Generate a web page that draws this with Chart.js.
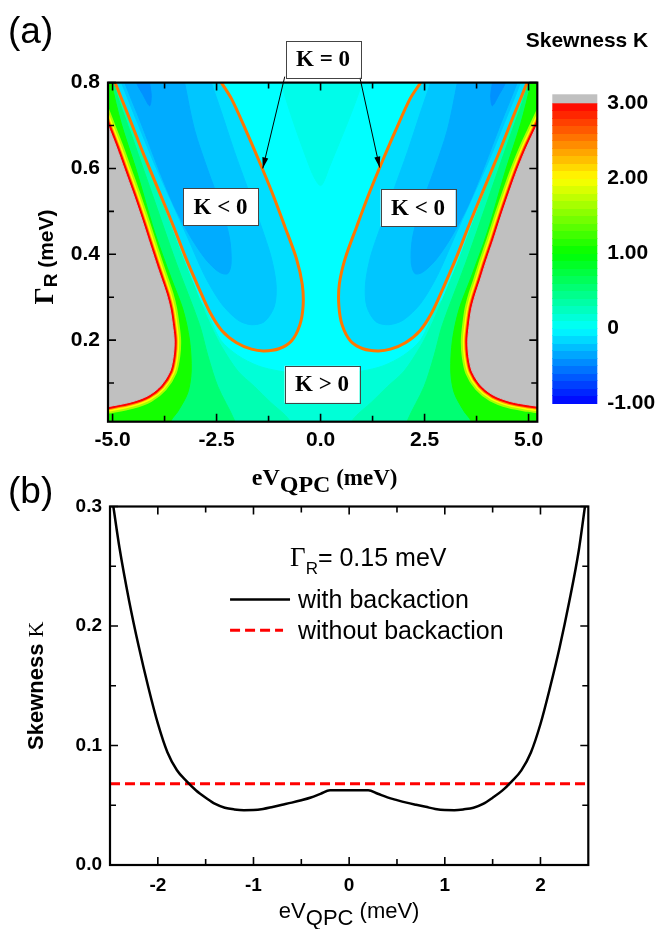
<!DOCTYPE html>
<html>
<head>
<meta charset="utf-8">
<title>Skewness K</title>
<script src="https://cdn.jsdelivr.net/npm/chart.js@4.4.1/dist/chart.umd.min.js"></script>
<style>
  html, body { margin: 0; padding: 0; background: #fff; }
  #fig { position: relative; width: 661px; height: 929px; }
  #fig canvas { position: absolute; left: 0; top: 0; }
</style>
</head>
<body>
<div id="fig">
  <canvas id="mapChart" width="661" height="929"></canvas>
  <canvas id="lineChart" width="661" height="929"></canvas>
</div>
<script>
/**
 * ==========================================
 * (a) MAPA DE SKEWNESS - contornos leídos de la figura
 * puntos [eV_QPC (meV), Gamma_R (meV)]
 * ==========================================
 */
const xTicksMap = [-5, -2.5, 0, 2.5, 5];
const xMinorMap = [-3.75, -1.25, 1.25, 3.75];
const yTicksMap = [0.2, 0.4, 0.6, 0.8];
const yMinorMap = [0.1, 0.3, 0.5, 0.7];
const cbTicks = [-1, 0, 1, 2, 3];
const cbLabels = ['-1.00', '0', '1.00', '2.00', '3.00'];

// borde de la zona gris (K > 3)
const grayLeft = [[-5.25,0.735],[-5.11,0.700],[-4.91,0.650],[-4.71,0.596],[-4.51,0.542],[-4.32,0.488],[-4.14,0.434],[-3.96,0.380],[-3.81,0.337],[-3.70,0.305],[-3.615,0.272],[-3.56,0.236],[-3.52,0.200],[-3.54,0.164],[-3.62,0.128],[-3.84,0.094],[-4.14,0.071],[-4.55,0.056],[-5.11,0.045],[-5.3,0.042]];
const grayRight = [[5.35,0.731],[5.22,0.704],[4.94,0.646],[4.73,0.596],[4.53,0.542],[4.34,0.488],[4.16,0.434],[3.97,0.380],[3.83,0.337],[3.72,0.305],[3.63,0.272],[3.575,0.236],[3.54,0.200],[3.56,0.164],[3.64,0.128],[3.85,0.095],[4.15,0.072],[4.56,0.057],[5.0,0.049],[5.22,0.046],[5.35,0.044]];

// zonas verdes (K ~ 1, 0.5, 0.25, 0.15)
const green1Left = [[-5.05,0.83],[-5.03,0.801],[-4.79,0.704],[-4.43,0.596],[-3.99,0.452],[-3.59,0.344],[-3.31,0.272],[-3.15,0.200],[-3.11,0.128],[-3.19,0.078],[-3.43,0.034],[-3.59,0.013],[-3.70,-0.03],[-5.4,-0.03],[-5.4,0.83]];
const green1Right = [[5.08,0.83],[5.06,0.801],[4.81,0.704],[4.45,0.596],[4.01,0.452],[3.61,0.344],[3.33,0.272],[3.17,0.200],[3.13,0.128],[3.21,0.078],[3.45,0.034],[3.61,0.013],[3.72,-0.03],[5.4,-0.03],[5.4,0.83]];
const green2Left = [[-5.0,0.83],[-4.99,0.801],[-4.51,0.668],[-3.99,0.524],[-3.47,0.380],[-2.91,0.236],[-2.71,0.164],[-2.47,0.092],[-2.07,0.013],[-1.95,-0.03],[-5.4,-0.03],[-5.4,0.83]];
const green2Right = [[5.03,0.83],[5.01,0.801],[4.53,0.668],[4.01,0.524],[3.49,0.380],[2.93,0.236],[2.73,0.164],[2.49,0.092],[2.09,0.013],[1.97,-0.03],[5.4,-0.03],[5.4,0.83]];
const green3Left = [[-5.4,0.85],[-4.99,0.85],[-4.96,0.80],[-4.62,0.718],[-4.28,0.632],[-3.92,0.546],[-3.60,0.466],[-3.32,0.394],[-3.02,0.322],[-2.78,0.265],[-2.58,0.222],[-2.38,0.185],[-1.99,0.128],[-1.59,0.092],[-1.20,0.055],[-0.85,0.025],[-0.70,0.005],[-0.66,-0.03],[-5.4,-0.03]];
const green3Right = [[5.4,0.85],[5.03,0.85],[4.99,0.80],[4.65,0.718],[4.31,0.632],[3.95,0.546],[3.63,0.466],[3.35,0.394],[3.05,0.322],[2.80,0.265],[2.60,0.222],[2.40,0.185],[2.01,0.128],[1.61,0.092],[1.22,0.055],[0.87,0.025],[0.72,0.005],[0.68,-0.03],[5.4,-0.03]];
const green4 = [[-5.4,-0.03],[-5.4,0.40],[-3.0,0.30],[-2.4,0.20],[-2.0,0.165],[-1.5,0.14],[-1.0,0.128],[-0.5,0.122],[0,0.12],[0.5,0.122],[1.0,0.128],[1.5,0.14],[2.0,0.165],[2.4,0.20],[3.0,0.30],[5.4,0.40],[5.4,-0.03]];
const centerWedge = [[-0.95,0.85],[-0.95,0.80],[-0.25,0.60],[0.0,0.56],[0.2,0.60],[1.0,0.80],[1.0,0.85]];

// contorno K = 0 (naranja) y zonas K < 0
const zeroLeft = [[-5.02,0.82],[-4.945,0.801],[-4.60,0.718],[-4.25,0.632],[-3.88,0.546],[-3.54,0.466],[-3.25,0.394],[-2.93,0.322],[-2.66,0.265],[-2.37,0.222],[-2.02,0.194],[-1.66,0.179],[-1.36,0.175],[-1.0,0.180],[-0.70,0.198],[-0.50,0.235],[-0.42,0.28],[-0.44,0.33],[-0.58,0.39],[-0.86,0.465],[-1.17,0.545],[-1.48,0.618],[-1.80,0.690],[-2.14,0.762],[-2.39,0.801],[-2.50,0.82]];
const zeroRight = [[2.52,0.82],[2.41,0.801],[2.15,0.762],[1.81,0.690],[1.49,0.618],[1.18,0.545],[0.87,0.465],[0.59,0.39],[0.45,0.33],[0.44,0.28],[0.52,0.235],[0.72,0.198],[1.02,0.180],[1.38,0.175],[1.68,0.179],[2.04,0.194],[2.39,0.222],[2.68,0.265],[2.95,0.322],[3.27,0.394],[3.56,0.466],[3.90,0.546],[4.27,0.632],[4.62,0.718],[4.97,0.801],[5.04,0.82]];
const blue1Left = [[-4.87,0.826],[-4.79,0.801],[-4.39,0.704],[-3.99,0.610],[-3.59,0.524],[-3.19,0.438],[-2.79,0.351],[-2.39,0.286],[-1.99,0.247],[-1.67,0.236],[-1.35,0.243],[-1.11,0.279],[-1.07,0.330],[-1.19,0.394],[-1.43,0.466],[-1.75,0.553],[-2.07,0.639],[-2.39,0.733],[-2.63,0.801],[-2.71,0.826]];
const blue1Right = [[4.89,0.826],[4.81,0.801],[4.41,0.704],[4.01,0.610],[3.61,0.524],[3.21,0.438],[2.81,0.351],[2.41,0.286],[1.99,0.247],[1.64,0.236],[1.33,0.243],[1.11,0.279],[1.08,0.330],[1.20,0.394],[1.45,0.466],[1.77,0.553],[2.09,0.639],[2.41,0.733],[2.65,0.801],[2.73,0.826]];
const blue2Left = [[-4.77,0.826],[-4.71,0.801],[-4.31,0.704],[-3.91,0.603],[-3.51,0.510],[-3.11,0.438],[-2.75,0.387],[-2.43,0.358],[-2.23,0.355],[-2.15,0.380],[-2.19,0.438],[-2.39,0.510],[-2.71,0.596],[-3.03,0.690],[-3.27,0.801],[-3.31,0.826]];
const blue2Right = [[4.79,0.826],[4.73,0.801],[4.33,0.704],[3.93,0.603],[3.53,0.510],[3.13,0.438],[2.77,0.387],[2.45,0.358],[2.27,0.355],[2.18,0.380],[2.21,0.438],[2.41,0.510],[2.73,0.596],[3.05,0.690],[3.29,0.801],[3.33,0.826]];
const blue3Left = [[-4.45,0.826],[-4.43,0.801],[-4.27,0.772],[-4.11,0.746],[-4.07,0.769],[-4.11,0.801],[-4.10,0.826]];
const blue3Right = [[4.47,0.826],[4.45,0.801],[4.29,0.772],[4.13,0.746],[4.09,0.769],[4.13,0.801],[4.12,0.826]];

/**
 * ==========================================
 * (b) SKEWNESS vs eV_QPC, Gamma_R = 0.15 meV
 * ==========================================
 */
const xBack = [-2.465,-2.4,-2.3,-2.2,-2.1,-2.0,-1.9,-1.8,-1.7,-1.6,-1.5,-1.4,-1.3,-1.2,-1.1,-1.0,-0.9,-0.8,-0.7,-0.6,-0.5,-0.4,-0.3,-0.2,-0.1,0,0.1,0.2,0.3,0.4,0.5,0.6,0.7,0.8,0.9,1.0,1.1,1.2,1.3,1.4,1.5,1.6,1.7,1.8,1.9,2.0,2.1,2.2,2.3,2.4,2.465];
const kBack = [0.300,0.265,0.221,0.183,0.149,0.1185,0.0944,0.0793,0.0701,0.0623,0.0563,0.0511,0.0479,0.0465,0.0459,0.0460,0.0469,0.0486,0.0504,0.0522,0.0542,0.0565,0.0595,0.0625,0.0625,0.0625,0.0625,0.0625,0.0596,0.0566,0.0543,0.0522,0.0504,0.0487,0.0469,0.0460,0.0459,0.0466,0.0479,0.0511,0.0563,0.0622,0.0700,0.0792,0.0942,0.1180,0.1485,0.182,0.220,0.263,0.300];
const xNoBack = [-2.5, 2.5];
const kNoBack = [0.068, 0.068];
const xTicksLine = [-2, -1, 0, 1, 2];
const xMinorLine = [-1.5, -0.5, 0.5, 1.5];
const yTicksLine = [0, 0.1, 0.2, 0.3];
const yMinorLine = [0.05, 0.15, 0.25];

const SANS = '"Liberation Sans", Arial, sans-serif';
const SERIF = '"Liberation Serif", "Times New Roman", serif';

// mapa de color del original: azul -> cian -> verde -> amarillo -> rojo
const cmapStops = [[-1, [0, 0, 255]], [0, [0, 255, 255]], [1, [0, 255, 0]], [2, [255, 255, 0]], [3, [255, 0, 0]]];
function cmap(k) {
    for (let i = 1; i < cmapStops.length; i++) {
        const [k0, c0] = cmapStops[i - 1];
        const [k1, c1] = cmapStops[i];
        if (k <= k1) {
            const t = Math.max(0, (k - k0) / (k1 - k0));
            return 'rgb(' + c0.map((c, j) => Math.round(c + (c1[j] - c) * t)).join(',') + ')';
        }
    }
    return 'rgb(255,0,0)';
}

const pts = arr => arr.map(([x, y]) => ({ x, y }));

function shape(arr, color, extra) {
    return Object.assign({
        data: pts(arr), showLine: true, fill: 'shape', backgroundColor: color,
        borderColor: color, borderWidth: 1, tension: 0.3, clip: 0
    }, extra || {});
}
function edge(arr, color, width) {
    return {
        data: pts(arr), showLine: true, fill: false, borderColor: color, borderWidth: width,
        borderJoinStyle: 'round', borderCapStyle: 'round', tension: 0.3, clip: 0
    };
}

function buildMapLayers() {
    const layers = [
        shape(green4, 'rgb(0,255,215)'),
        shape(centerWedge, 'rgb(0,252,234)'),
        shape(green3Left, 'rgb(0,255,178)'), shape(green3Right, 'rgb(0,255,178)'),
        shape(green2Left, 'rgb(0,255,115)'), shape(green2Right, 'rgb(0,255,115)'),
        shape(green1Left, 'rgb(20,255,0)'), shape(green1Right, 'rgb(20,255,0)')
    ];
    // degradado rojo-amarillo junto a la zona gris
    [['rgb(170,255,0)', 14], ['rgb(255,255,0)', 10], ['rgb(255,150,0)', 7], ['rgb(255,0,0)', 5]].forEach(([c, w]) => {
        layers.push(edge(grayLeft, c, w), edge(grayRight, c, w));
    });
    layers.push(
        shape(grayLeft, 'rgb(192,192,192)'), shape(grayRight, 'rgb(192,192,192)'),
        shape(zeroLeft, 'rgb(0,222,255)', { borderColor: 'rgb(255,119,0)', borderWidth: 3 }),
        shape(zeroRight, 'rgb(0,222,255)', { borderColor: 'rgb(255,119,0)', borderWidth: 3 }),
        shape(blue1Left, 'rgb(0,198,255)'), shape(blue1Right, 'rgb(0,198,255)'),
        shape(blue2Left, 'rgb(0,172,255)'), shape(blue2Right, 'rgb(0,172,255)'),
        shape(blue3Left, 'rgb(0,145,255)'), shape(blue3Right, 'rgb(0,145,255)')
    );
    // el orden alto se dibuja primero (abajo)
    layers.forEach((d, i) => { d.order = layers.length - i; });
    return layers;
}

// notas del panel (a), en coordenadas de datos
const notes = [
    { text: 'K = 0', x: 0.06, y: 0.854 },
    { text: 'K < 0', x: -2.405, y: 0.511 },
    { text: 'K < 0', x: 2.345, y: 0.508 },
    { text: 'K > 0', x: 0.036, y: 0.097 }
];
const arrows = [
    { from: [-0.86, 0.814], to: [-1.39, 0.600] },
    { from: [0.94, 0.814], to: [1.42, 0.602] }
];

function runsWidth(ctx, runs) {
    let w = 0;
    runs.forEach(r => { ctx.font = r.font; w += ctx.measureText(r.text).width; });
    return w;
}
function drawRuns(ctx, runs, cx, y, align) {
    let x = align === 'left' ? cx : cx - runsWidth(ctx, runs) / 2;
    ctx.textAlign = 'left';
    ctx.textBaseline = 'alphabetic';
    runs.forEach(r => {
        ctx.font = r.font;
        ctx.fillText(r.text, x, y + (r.dy || 0));
        x += ctx.measureText(r.text).width;
    });
}

function frameAndTicks(ctx, a, xs, ys, xMaj, xMin, yMaj, yMin) {
    ctx.strokeStyle = '#000';
    ctx.lineWidth = 1.6;
    ctx.beginPath();
    const vx = (list, len) => list.forEach(v => {
        const p = xs.getPixelForValue(v);
        ctx.moveTo(p, a.bottom); ctx.lineTo(p, a.bottom - len);
        ctx.moveTo(p, a.top); ctx.lineTo(p, a.top + len);
    });
    const vy = (list, len) => list.forEach(v => {
        const p = ys.getPixelForValue(v);
        ctx.moveTo(a.left, p); ctx.lineTo(a.left + len, p);
        ctx.moveTo(a.right, p); ctx.lineTo(a.right - len, p);
    });
    vx(xMaj, 8); vx(xMin, 6); vy(yMaj, 8); vy(yMin, 6);
    ctx.stroke();
    ctx.lineWidth = 2.2;
    ctx.strokeRect(a.left, a.top, a.right - a.left, a.bottom - a.top);
}

function drawArrow(ctx, x0, y0, x1, y1) {
    ctx.lineWidth = 1;
    ctx.beginPath(); ctx.moveTo(x0, y0); ctx.lineTo(x1, y1); ctx.stroke();
    const ang = Math.atan2(y1 - y0, x1 - x0), L = 11, W = 3;
    const bx = x1 - L * Math.cos(ang), by = y1 - L * Math.sin(ang);
    ctx.beginPath();
    ctx.moveTo(x1, y1);
    ctx.lineTo(bx + W * Math.sin(ang), by - W * Math.cos(ang));
    ctx.lineTo(bx - W * Math.sin(ang), by + W * Math.cos(ang));
    ctx.closePath(); ctx.fill();
}

const mapDecor = {
    id: 'mapDecor',
    beforeDatasetsDraw(chart) {
        const { ctx, chartArea: a } = chart;
        ctx.save();
        ctx.fillStyle = 'rgb(0,255,255)';
        ctx.fillRect(a.left, a.top, a.right - a.left, a.bottom - a.top);
        ctx.restore();
    },
    afterDatasetsDraw(chart) {
        const { ctx, chartArea: a, scales } = chart;
        const { x, y, cb } = scales;
        ctx.save();
        frameAndTicks(ctx, a, x, y, xTicksMap, xMinorMap, yTicksMap, yMinorMap);

        // flechas y cajas de texto
        ctx.fillStyle = '#000'; ctx.strokeStyle = '#000';
        arrows.forEach(ar => drawArrow(ctx,
            x.getPixelForValue(ar.from[0]), y.getPixelForValue(ar.from[1]),
            x.getPixelForValue(ar.to[0]), y.getPixelForValue(ar.to[1])));
        notes.forEach(n => {
            const cx = x.getPixelForValue(n.x), cy = y.getPixelForValue(n.y);
            ctx.fillStyle = '#fff';
            ctx.fillRect(cx - 37.5, cy - 18.5, 75, 37);
            ctx.strokeStyle = '#444'; ctx.lineWidth = 1;
            ctx.strokeRect(Math.round(cx - 37.5) + 0.5, Math.round(cy - 18.5) + 0.5, 75, 37);
            ctx.fillStyle = '#000';
            ctx.font = `bold 23px ${SERIF}`;
            ctx.textAlign = 'center'; ctx.textBaseline = 'middle';
            ctx.fillText(n.text, cx, cy + 1);
        });

        // barra de color
        const left = a.right + 15, w = 45;
        for (let k = -1; k < 2.999; k += 0.1) {
            const y0 = cb.getPixelForValue(k), y1 = cb.getPixelForValue(k + 0.1);
            ctx.fillStyle = cmap(k + 0.05);
            ctx.fillRect(left, Math.floor(y1), w, Math.ceil(y0) - Math.floor(y1));
        }
        ctx.fillStyle = 'rgb(192,192,192)';
        const g1 = cb.getPixelForValue(3.12), g0 = cb.getPixelForValue(3);
        ctx.fillRect(left, g1, w, g0 - g1);

        // títulos
        ctx.fillStyle = '#000';
        drawRuns(ctx, [{ text: 'Skewness K', font: `bold 21px ${SANS}` }], 587, 47);
        drawRuns(ctx, [{ text: '(a)', font: `37px ${SANS}` }], 8, 43, 'left');
        drawRuns(ctx, [
            { text: 'eV', font: `bold 24px ${SERIF}` },
            { text: 'QPC', font: `bold 24px ${SERIF}`, dy: 7 },
            { text: ' (meV)', font: `bold 23px ${SERIF}` }
        ], (a.left + a.right) / 2 + 2, 485);
        ctx.save();
        ctx.translate(45, 257);
        ctx.rotate(-Math.PI / 2);
        drawRuns(ctx, [
            { text: 'Γ', font: `bold 27px ${SERIF}` },
            { text: 'R', font: `bold 19px ${SANS}`, dy: 4 },
            { text: ' (meV)', font: `bold 21px ${SANS}` }
        ], 0, 8);
        ctx.restore();
        ctx.restore();
    }
};

const tickFontMap = { family: SANS, weight: 'bold', size: 21 };

new Chart(document.getElementById('mapChart'), {
    type: 'scatter',
    data: { datasets: buildMapLayers() },
    options: {
        responsive: false,
        animation: false,
        devicePixelRatio: 1,
        events: [],
        layout: { padding: { left: 0, top: 54.3, right: 0, bottom: 929 - 421.7 - 40 } },
        elements: { point: { radius: 0, hitRadius: 0 }, line: { capBezierPoints: false } },
        plugins: { legend: { display: false }, tooltip: { enabled: false } },
        scales: {
            x: {
                type: 'linear', min: -5.11, max: 5.21,
                grid: { display: false, drawTicks: false }, border: { display: false },
                afterBuildTicks: s => { s.ticks = xTicksMap.map(v => ({ value: v })); },
                afterFit: s => { s.height = 40; },
                ticks: { autoSkip: false, maxRotation: 0, padding: 6, color: '#000', font: tickFontMap, callback: v => v.toFixed(1) }
            },
            y: {
                type: 'linear', min: 0.01, max: 0.8,
                grid: { display: false, drawTicks: false }, border: { display: false },
                afterBuildTicks: s => { s.ticks = yTicksMap.map(v => ({ value: v })); },
                afterFit: s => { s.width = 108; },
                ticks: { autoSkip: false, padding: 8, color: '#000', font: tickFontMap, callback: v => v.toFixed(1) }
            },
            cb: {
                type: 'linear', position: 'right', min: -1.246, max: 3.276,
                grid: { display: false, drawTicks: false }, border: { display: false },
                afterBuildTicks: s => { s.ticks = cbTicks.map(v => ({ value: v })); },
                afterFit: s => { s.width = 661 - 537.3; },
                ticks: { autoSkip: false, padding: 70, color: '#000', font: tickFontMap, callback: (v, i) => cbLabels[i] }
            }
        }
    },
    plugins: [mapDecor]
});

const legendSpot = { x0: -1.245, x1: -0.618, textX: -0.535, rows: [0.2222, 0.1965], titleX: -0.618, titleY: 0.25 };

const lineDecor = {
    id: 'lineDecor',
    afterDatasetsDraw(chart) {
        const { ctx, chartArea: a, scales } = chart;
        const { x, y } = scales;
        ctx.save();
        frameAndTicks(ctx, a, x, y, xTicksLine, xMinorLine, yTicksLine, yMinorLine);

        // leyenda
        ctx.fillStyle = '#000';
        const tx = x.getPixelForValue(legendSpot.titleX), ty = y.getPixelForValue(legendSpot.titleY);
        drawRuns(ctx, [
            { text: 'Γ', font: `27px ${SERIF}` },
            { text: 'R', font: `17px ${SANS}`, dy: 8 },
            { text: '= 0.15 meV', font: `25px ${SANS}` }
        ], tx, ty, 'left');
        chart.data.datasets.forEach((ds, i) => {
            const ly = y.getPixelForValue(legendSpot.rows[i]);
            ctx.beginPath();
            ctx.strokeStyle = ds.borderColor;
            ctx.lineWidth = ds.borderWidth;
            ctx.setLineDash(ds.borderDash || []);
            ctx.moveTo(x.getPixelForValue(legendSpot.x0), ly);
            ctx.lineTo(x.getPixelForValue(legendSpot.x1) - (ds.borderDash ? 7 : 0), ly);
            ctx.stroke();
            ctx.setLineDash([]);
            ctx.fillStyle = '#000';
            drawRuns(ctx, [{ text: ds.label, font: `25px ${SANS}` }], x.getPixelForValue(legendSpot.textX), ly + 9, 'left');
        });

        // títulos
        drawRuns(ctx, [{ text: '(b)', font: `37px ${SANS}` }], 8, 503, 'left');
        drawRuns(ctx, [
            { text: 'eV', font: `22px ${SANS}` },
            { text: 'QPC', font: `22px ${SANS}`, dy: 7 },
            { text: ' (meV)', font: `22px ${SANS}` }
        ], (a.left + a.right) / 2, 918);
        ctx.save();
        ctx.translate(35, (a.top + a.bottom) / 2);
        ctx.rotate(-Math.PI / 2);
        drawRuns(ctx, [
            { text: 'Skewness ', font: `bold 22px ${SANS}` },
            { text: 'K', font: `22px ${SERIF}` }
        ], 0, 8);
        ctx.restore();
        ctx.restore();
    }
};

const tickFontLine = { family: SANS, weight: 'bold', size: 19 };

new Chart(document.getElementById('lineChart'), {
    type: 'scatter',
    data: {
        datasets: [
            {
                label: 'with backaction',
                data: xBack.map((v, i) => ({ x: v, y: kBack[i] })),
                showLine: true, borderColor: '#000', borderWidth: 2.5,
                cubicInterpolationMode: 'monotone', clip: 0
            },
            {
                label: 'without backaction',
                data: xNoBack.map((v, i) => ({ x: v, y: kNoBack[i] })),
                showLine: true, borderColor: 'rgb(255,0,0)', borderWidth: 3, borderDash: [10, 5], clip: 0
            }
        ]
    },
    options: {
        responsive: false,
        animation: false,
        devicePixelRatio: 1,
        events: [],
        layout: { padding: { left: 0, top: 506.5, right: 661 - 588.3, bottom: 929 - 865 - 40 } },
        elements: { point: { radius: 0, hitRadius: 0 } },
        plugins: { legend: { display: false }, tooltip: { enabled: false } },
        scales: {
            x: {
                type: 'linear', min: -2.5, max: 2.5,
                grid: { display: false, drawTicks: false }, border: { display: false },
                afterBuildTicks: s => { s.ticks = xTicksLine.map(v => ({ value: v })); },
                afterFit: s => { s.height = 40; },
                ticks: { autoSkip: false, maxRotation: 0, padding: 9, color: '#000', font: tickFontLine, callback: v => String(v) }
            },
            y: {
                type: 'linear', min: 0, max: 0.3,
                grid: { display: false, drawTicks: false }, border: { display: false },
                afterBuildTicks: s => { s.ticks = yTicksLine.map(v => ({ value: v })); },
                afterFit: s => { s.width = 110; },
                ticks: { autoSkip: false, padding: 8, color: '#000', font: tickFontLine, callback: v => v.toFixed(1) }
            }
        }
    },
    plugins: [lineDecor]
});
</script>
</body>
</html>
